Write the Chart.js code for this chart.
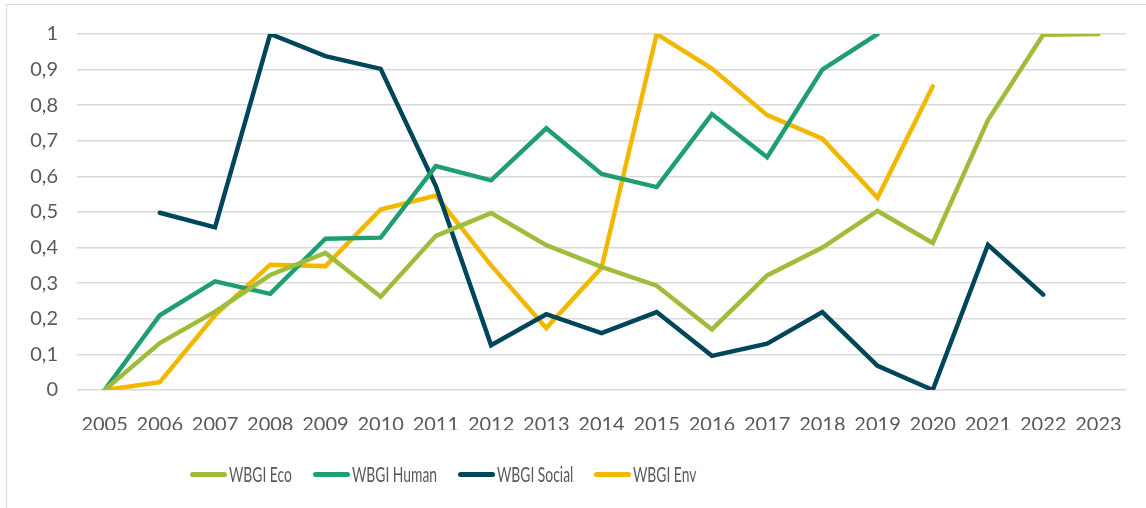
<!DOCTYPE html>
<html>
<head>
<meta charset="utf-8">
<script src="https://cdn.jsdelivr.net/npm/chart.js@4.4.1/dist/chart.umd.min.js"></script>
<style>
html,body{margin:0;padding:0;background:#fff;}
#wrap{position:absolute;left:0;top:0;width:1146px;height:508px;overflow:hidden;}
#frame{position:absolute;left:6px;top:4px;width:1160px;height:520px;border:1.5px solid #D9D9D9;box-sizing:border-box;}
canvas{position:absolute;left:0;top:0;}
#legend{position:absolute;left:190px;top:462px;height:24px;display:flex;align-items:center;}
.lg-item{display:flex;align-items:center;margin-right:21px;}
.lg-line{width:37px;height:5px;border-radius:3px;margin-right:2px;flex:none;}
.lg-textbox{overflow:visible;white-space:nowrap;height:24px;position:relative;}
.lg-text{position:absolute;left:0;top:0;font-family:Lato,sans-serif;font-size:21px;line-height:24px;color:#595959;transform-origin:0 50%;white-space:nowrap;}
</style>
</head>
<body>
<div id="wrap">
<div id="frame"></div>
<canvas id="c" width="1146" height="508"></canvas>
<div id="legend"></div>
</div>
<script>
const years = ['2005','2006','2007','2008','2009','2010','2011','2012','2013','2014','2015','2016','2017','2018','2019','2020','2021','2022','2023'];
const ecoValues    = [0, 0.132, 0.22, 0.323, 0.385, 0.262, 0.433, 0.497, 0.407, 0.346, 0.293, 0.17, 0.322, 0.40, 0.503, 0.413, 0.758, 0.998, 1.0];
const humanValues  = [0, 0.21, 0.305, 0.27, 0.425, 0.428, 0.629, 0.589, 0.735, 0.607, 0.57, 0.775, 0.654, 0.90, 1.0, null, null, null, null];
const socialValues = [null, 0.498, 0.457, 1.0, 0.938, 0.902, 0.573, 0.126, 0.213, 0.16, 0.219, 0.096, 0.13, 0.219, 0.068, 0, 0.408, 0.268, null];
const envValues    = [0, 0.022, 0.21, 0.352, 0.348, 0.507, 0.546, 0.35, 0.174, 0.343, 1.0, 0.903, 0.772, 0.706, 0.54, 0.853, null, null, null];
const yTickLabels = ['0','0,1','0,2','0,3','0,4','0,5','0,6','0,7','0,8','0,9','1'];
const seriesNames = ['WBGI Eco','WBGI Human','WBGI Social','WBGI Env'];
const seriesColors = ['#9FBD3A','#1F9E6F','#00465A','#F2B800'];

const allValues = [ecoValues, humanValues, socialValues, envValues];
const datasets = allValues.map((vals, i) => ({
  label: seriesNames[i],
  data: vals,
  borderColor: seriesColors[i],
  backgroundColor: seriesColors[i],
  borderWidth: 4.5,
  pointRadius: 0,
  pointHoverRadius: 0,
  tension: 0,
  fill: false,
  spanGaps: false,
  borderCapStyle: 'round',
  borderJoinStyle: 'miter'
}));

// HTML legend built from the chart's datasets
const htmlLegend = {
  id: 'htmlLegend',
  afterUpdate(chart) {
    const box = document.getElementById('legend');
    box.innerHTML = '';
    const SCALE_X = 0.66;
    chart.data.datasets.forEach((ds) => {
      const item = document.createElement('div');
      item.className = 'lg-item';
      const line = document.createElement('span');
      line.className = 'lg-line';
      line.style.background = ds.borderColor;
      const tb = document.createElement('span');
      tb.className = 'lg-textbox';
      const t = document.createElement('span');
      t.className = 'lg-text';
      t.textContent = ds.label;
      t.style.transform = 'scaleX(' + SCALE_X + ')';
      tb.appendChild(t);
      item.appendChild(line);
      item.appendChild(tb);
      box.appendChild(item);
      tb.style.width = (t.getBoundingClientRect().width) + 'px';
    });
  }
};

new Chart(document.getElementById('c'), {
  type: 'line',
  data: { labels: years, datasets },
  plugins: [htmlLegend],
  options: {
    responsive: false,
    animation: false,
    devicePixelRatio: 1,
    layout: { padding: { left: 8, right: 20, top: 34, bottom: 78 } },
    plugins: {
      tooltip: { enabled: false },
      legend: { display: false }
    },
    scales: {
      x: {
        offset: true,
        grid: { display: false, drawTicks: false },
        border: { display: false },
        ticks: {
          color: '#595959',
          font: { family: 'Lato', size: 20 },
          padding: 23,
          maxRotation: 0,
          autoSkip: false
        },
        afterFit: (s) => { s.height = 40; }
      },
      y: {
        min: 0,
        max: 1,
        grid: { color: '#D9D9D9', lineWidth: 1.6, drawTicks: false },
        border: { display: false },
        ticks: {
          stepSize: 0.1,
          color: '#595959',
          font: { family: 'Lato', size: 20 },
          padding: 19,
          callback: (v, i) => yTickLabels[i]
        },
        afterFit: (s) => { s.width = 69; }
      }
    }
  }
});
</script>
</body>
</html>
